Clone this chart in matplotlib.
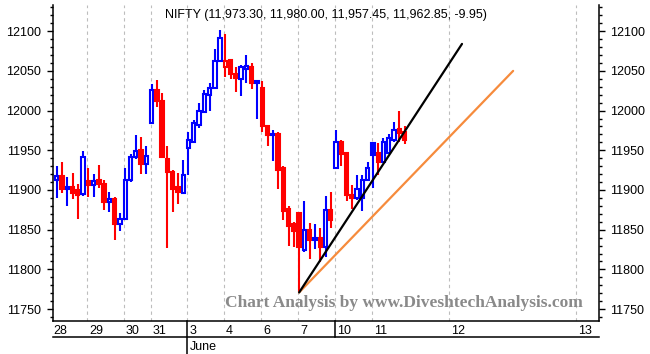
import numpy as np
import matplotlib.pyplot as plt
import matplotlib.transforms as mtransforms
from matplotlib.lines import Line2D
from matplotlib.ticker import MultipleLocator

# trading days shown and how many hourly bars each one has
days = ['28', '29', '30', '31', '3', '4', '6', '7', '10', '11']
bars_per_day = [6, 7, 5, 7, 7, 7, 7, 7, 7, 7]
future_days = ['12', '13']
month_label = 'June'

opens = [11913, 11917, 11901, 11904, 11900, 11895,
         11911, 11906, 11913, 11907, 11885, 11889, 11857,
         11864, 11912, 11942, 11951, 11933,
         11985, 12026, 12012, 11939, 11923, 11904, 11896,
         11953, 11961, 11982, 11998, 12020, 12028, 12063,
         12055, 12064, 12046, 12040, 12053, 12055, 12035,
         12029, 11981, 11969, 11970, 11928, 11876, 11857,
         11871, 11824, 11849, 11837, 11839, 11828, 11875,
         11928, 11960, 11946, 11894, 11890, 11890, 11913,
         11959, 11946, 11935, 11946, 11963, 11977, 11973.30]
highs = [11930, 11935, 11916, 11921, 11908, 11949,
         11928, 11920, 11932, 11912, 11897, 11891, 11871,
         11928, 11945, 11969, 11967, 11955,
         12033, 12038, 12022, 11955, 11925, 11922, 11938,
         11973, 11988, 12009, 12026, 12035, 12077, 12102,
         12096, 12065, 12055, 12058, 12070, 12060, 12038,
         12037, 11981, 11975, 11973, 11930, 11880, 11860,
         11872, 11886, 11858, 11857, 11852, 11893, 11897,
         11975, 11963, 11946, 11906, 11919, 11919, 11935,
         11960, 11959, 11965, 11971, 11986, 12000, 11980.00]
lows = [11890, 11896, 11880, 11889, 11864, 11892,
        11891, 11891, 11902, 11875, 11872, 11837, 11848,
        11862, 11910, 11939, 11920, 11920,
        11984, 12004, 11941, 11827, 11872, 11882, 11896,
        11919, 11959, 11978, 11997, 11999, 12027, 12063,
        12042, 12040, 12023, 12018, 12035, 12027, 11989,
        11973, 11955, 11937, 11901, 11862, 11830, 11828,
        11771, 11822, 11813, 11826, 11809, 11816, 11852,
        11928, 11930, 11886, 11876, 11888, 11873, 11911,
        11902, 11919, 11934, 11946, 11960, 11960, 11957.45]
closes = [11917, 11901, 11904, 11896, 11894, 11942,
          11906, 11911, 11907, 11885, 11889, 11857, 11864,
          11912, 11942, 11949, 11933, 11943,
          12026, 12012, 11942, 11923, 11901, 11898, 11919,
          11963, 11984, 11999, 12021, 12028, 12063, 12091,
          12062, 12046, 12041, 12055, 12056, 12035, 12037,
          11980, 11969, 11971, 11925, 11874, 11855, 11848,
          11828, 11849, 11837, 11839, 11828, 11875, 11862,
          11960, 11945, 11894, 11890, 11901, 11913, 11928,
          11944, 11935, 11960, 11966, 11976, 11972, 11962.85]

# trend lines drawn from the 7 June low
trend_x = [46, 76.9]
trend_y = [11771, 12084]
channel_x = [46, 86.6]
channel_y = [11771, 12050]

title = 'NIFTY (11,973.30, 11,980.00, 11,957.45, 11,962.85, -9.95)'
watermark = 'Chart Analysis by www.DiveshtechAnalysis.com'

# layout
future_pos = [74.5, 98.5]
up_col = '#0000ff'
dn_col = '#ff0000'
font = 'Liberation Sans'
fs = 9

fig = plt.figure(figsize=(6.5, 3.54), dpi=100)
ax = fig.add_axes([52.5 / 650, 33 / 354, 546 / 650, 316 / 354])

n = len(opens)
x = np.arange(n)
o = np.array(opens)
c = np.array(closes)
prev = np.concatenate([[c[0] - 1], c[:-1]])
cols = [dn_col if c[i] < prev[i] else up_col for i in range(n)]
faces = [cols[i] if c[i] < o[i] else 'white' for i in range(n)]
bottoms = np.minimum(o, c)
heights = np.maximum(np.abs(c - o), 1.0)

ax.vlines(x, lows, highs, colors=cols, linewidth=1.5, zorder=2)
ax.bar(x, heights, width=0.64, bottom=bottoms, color=faces, edgecolor=cols,
       linewidth=1.5, zorder=3)

ax.plot(channel_x, channel_y, color='#f68b3c', linewidth=1.6, zorder=4,
        solid_capstyle='round')
ax.plot(trend_x, trend_y, color='black', linewidth=1.6, zorder=5,
        solid_capstyle='round')

starts = np.concatenate([[0], np.cumsum(bars_per_day)[:-1]])
day_lines = list(starts[1:] - 0.2) + future_pos
for p in day_lines:
    ax.axvline(p, color='#bdbdbd', linewidth=0.8, linestyle=(0, (3, 3)), zorder=1)

ax.set_xlim(-0.8, 102.8)
ax.set_ylim(11735, 12133)

ax.spines['top'].set_visible(False)
for s in ['left', 'right', 'bottom']:
    ax.spines[s].set_linewidth(1.1)

ax.set_xticks([])
ax.yaxis.set_major_locator(MultipleLocator(50))
ax.yaxis.set_minor_locator(MultipleLocator(10))
ax.tick_params(axis='y', which='both', left=True, right=True,
               labelleft=True, labelright=True, direction='out', width=1)
ax.tick_params(axis='y', which='major', length=4.5, pad=4, labelsize=fs)
ax.tick_params(axis='y', which='minor', length=2.5)
for lab in ax.get_yticklabels():
    lab.set_fontfamily(font)

trans = mtransforms.blended_transform_factory(ax.transData, ax.transAxes)
label_pos = [-0.8 + 0.1] + list(starts[1:] + 0.15)
for lab, p in zip(days, label_pos):
    ax.text(p, -0.032, lab, transform=trans, ha='left', va='center',
            fontsize=fs, family=font)
for lab, p in zip(future_days, future_pos):
    ax.text(p + 0.35, -0.032, lab, transform=trans, ha='left', va='center',
            fontsize=fs, family=font)

june = starts[days.index('3')] - 0.2
week = starts[days.index('10')] - 0.2
ax.add_line(Line2D([0, 1], [-0.0506, -0.0506], transform=ax.transAxes,
                   color='black', linewidth=1.1, clip_on=False))
ax.add_line(Line2D([june, june], [0, -0.11], transform=trans,
                   color='black', linewidth=1.1, clip_on=False))
ax.add_line(Line2D([week, week], [0, -0.0506], transform=trans,
                   color='black', linewidth=1.1, clip_on=False))
ax.text(june + 0.4, -0.082, month_label, transform=trans, ha='left',
        va='center', fontsize=fs, family=font)

ax.text(0.5, 0.968, title, transform=ax.transAxes, ha='center', va='center',
        fontsize=fs, family=font)
ax.text(0.643, 0.057, watermark, transform=ax.transAxes, ha='center',
        va='center', fontsize=12.5, family='Liberation Serif', weight='bold',
        color='#8a8a8a', zorder=6)

fig.savefig('out.png', dpi=100)
